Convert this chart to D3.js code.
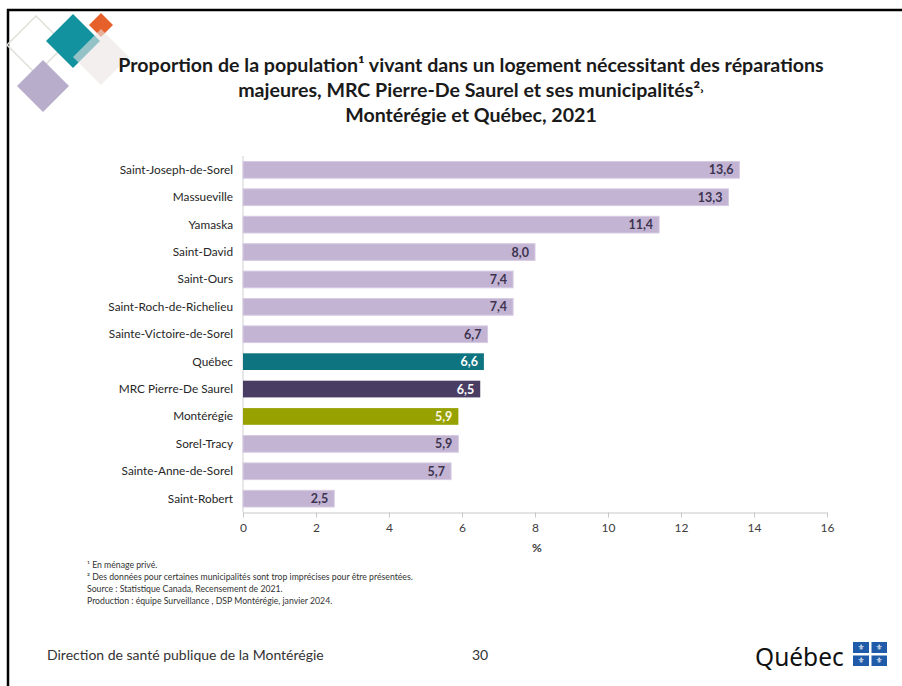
<!DOCTYPE html>
<html lang="fr">
<head>
    <meta charset="UTF-8">
    <title>Réparations majeures</title>
    <style>
        body {
            margin: 0;
            background: #FFFFFF;
        }
    </style>
</head>
<body>
<div id="chart"></div>
<script src="https://d3js.org/d3.v7.min.js"></script>
<script>
    // data
    const categories = ["Saint-Joseph-de-Sorel", "Massueville", "Yamaska", "Saint-David", "Saint-Ours",
        "Saint-Roch-de-Richelieu", "Sainte-Victoire-de-Sorel", "Québec", "MRC Pierre-De Saurel",
        "Montérégie", "Sorel-Tracy", "Sainte-Anne-de-Sorel", "Saint-Robert"];
    const values = [13.6, 13.3, 11.4, 8.0, 7.4, 7.4, 6.7, 6.6, 6.5, 5.9, 5.9, 5.7, 2.5];
    const xTicks = [0, 2, 4, 6, 8, 10, 12, 14, 16];
    const titleLines = ["Proportion de la population¹ vivant dans un logement nécessitant des réparations",
        "majeures, MRC Pierre-De Saurel et ses municipalités²˒",
        "Montérégie et Québec, 2021"];
    const notes = ["¹ En ménage privé.",
        "² Des données pour certaines municipalités sont trop imprécises pour être présentées.",
        "Source : Statistique Canada, Recensement de 2021.",
        "Production : équipe Surveillance , DSP Montérégie, janvier 2024."];

    // special bars get their own colour, the rest are lavender
    const barColor = {"Québec": "#0E7580", "MRC Pierre-De Saurel": "#4A3D63", "Montérégie": "#97A100"};
    const labelColor = {"Québec": "#FFFFFF", "MRC Pierre-De Saurel": "#FFFFFF", "Montérégie": "#FAFAE6"};

    const W = 902, H = 686;
    const font = "Lato, 'Noto Sans', sans-serif";

    const svg = d3.select("#chart").append("svg")
        .attr("width", W)
        .attr("height", H)
        .style("font-family", font);

    // slide frame (top + left)
    svg.append("line").attr("x1", 7).attr("x2", W).attr("y1", 10).attr("y2", 10)
        .attr("stroke", "#000").attr("stroke-width", 2.5);
    svg.append("line").attr("x1", 8).attr("x2", 8).attr("y1", 9).attr("y2", H)
        .attr("stroke", "#000").attr("stroke-width", 2.5);

    // decorative diamonds top-left
    const diamond = (cx, cy, r) => `M${cx},${cy - r}L${cx + r},${cy}L${cx},${cy + r}L${cx - r},${cy}Z`;
    const deco = svg.append("g");
    deco.append("path").attr("d", diamond(36, 45, 29)).attr("fill", "none")
        .attr("stroke", "#DDE1D8").attr("stroke-width", 1.5);
    deco.append("path").attr("d", diamond(43, 86, 26)).attr("fill", "#B8AECB");
    deco.append("path").attr("d", diamond(73, 41, 27)).attr("fill", "#12929F");
    deco.append("path").attr("d", diamond(101, 25, 12)).attr("fill", "#E5602A");
    deco.append("path").attr("d", diamond(101, 57, 28)).attr("fill", "#EAE5E2").attr("opacity", 0.6);

    // title
    const title = svg.append("text")
        .attr("text-anchor", "middle")
        .style("font-weight", "bold")
        .style("font-size", "19.6px")
        .attr("fill", "#1A1A1A");
    titleLines.forEach((t, i) => {
        title.append("tspan").attr("x", 471).attr("y", 72 + i * 25).text(t);
    });

    // scales
    const x = d3.scaleLinear().domain([0, 16]).range([243, 827]);
    const y = d3.scaleBand().domain(categories).range([156, 512.5])
        .paddingInner(0.39).paddingOuter(0.2);

    // vertical axis line
    svg.append("line").attr("x1", x(0)).attr("x2", x(0))
        .attr("y1", 156).attr("y2", 512.5)
        .attr("stroke", "#D0D0D0");

    // bars
    svg.selectAll(".bar")
        .data(categories)
        .join("rect")
        .attr("class", "bar")
        .attr("x", x(0))
        .attr("y", d => y(d))
        .attr("width", (d, i) => x(values[i]) - x(0))
        .attr("height", y.bandwidth())
        .attr("fill", d => barColor[d] || "#C3B4D4")
        .attr("stroke", d => barColor[d] ? "none" : "#D6CBE2")
        .attr("stroke-width", 1);

    // value labels
    svg.selectAll(".val")
        .data(categories)
        .join("text")
        .attr("class", "val")
        .attr("x", (d, i) => x(values[i]) - 6)
        .attr("y", d => y(d) + y.bandwidth() / 2 + 4.5)
        .attr("text-anchor", "end")
        .style("font-size", "12.5px")
        .style("font-weight", "bold")
        .attr("fill", d => labelColor[d] || "#3E3450")
        .text((d, i) => d3.format(".1f")(values[i]).replace(".", ","));

    // category labels
    svg.selectAll(".cat")
        .data(categories)
        .join("text")
        .attr("class", "cat")
        .attr("x", 233)
        .attr("y", d => y(d) + y.bandwidth() / 2 + 4)
        .attr("text-anchor", "end")
        .style("font-size", "11.8px")
        .attr("fill", "#262626")
        .text(d => d);

    // x axis
    const xAxis = svg.append("g")
        .attr("transform", "translate(0,512.5)")
        .call(d3.axisBottom(x).tickValues(xTicks).tickSize(5).tickPadding(6).tickSizeOuter(0));
    xAxis.select(".domain").attr("stroke", "#C8C8C8");
    xAxis.selectAll(".tick line").attr("stroke", "#C8C8C8");
    xAxis.selectAll(".tick text")
        .style("font-family", font)
        .style("font-size", "12px")
        .attr("fill", "#404040");

    svg.append("text")
        .attr("x", 537).attr("y", 552)
        .attr("text-anchor", "middle")
        .style("font-size", "12px")
        .style("font-weight", "bold")
        .attr("fill", "#404040")
        .text("%");

    // footnotes
    svg.selectAll(".note")
        .data(notes)
        .join("text")
        .attr("class", "note")
        .attr("x", 87)
        .attr("y", (d, i) => 568 + i * 12)
        .style("font-size", "8.7px")
        .attr("fill", "#333")
        .text(d => d);

    // footer
    svg.append("text").attr("x", 47).attr("y", 660)
        .style("font-size", "14px").attr("fill", "#333")
        .text("Direction de santé publique de la Montérégie");
    svg.append("text").attr("x", 472).attr("y", 660)
        .style("font-size", "14px").attr("fill", "#333")
        .text("30");

    // Québec wordmark
    svg.append("text").attr("x", 755).attr("y", 666)
        .style("font-family", "'Noto Sans', sans-serif")
        .style("font-size", "24.5px")
        .attr("fill", "#111")
        .text("Québec");
    const flag = svg.append("g").attr("transform", "translate(853,642)");
    flag.append("rect").attr("width", 34).attr("height", 24).attr("fill", "#1F5BA8");
    flag.append("rect").attr("x", 16).attr("width", 2.5).attr("height", 24).attr("fill", "#fff");
    flag.append("rect").attr("y", 11).attr("width", 34).attr("height", 2.5).attr("fill", "#fff");
    [[8, 8], [26, 8], [8, 21], [26, 21]].forEach(p => {
        flag.append("text").attr("x", p[0]).attr("y", p[1])
            .attr("text-anchor", "middle")
            .style("font-family", "'DejaVu Sans'")
            .style("font-size", "8px")
            .attr("fill", "#fff")
            .text("⚜");
    });
</script>
</body>
</html>
